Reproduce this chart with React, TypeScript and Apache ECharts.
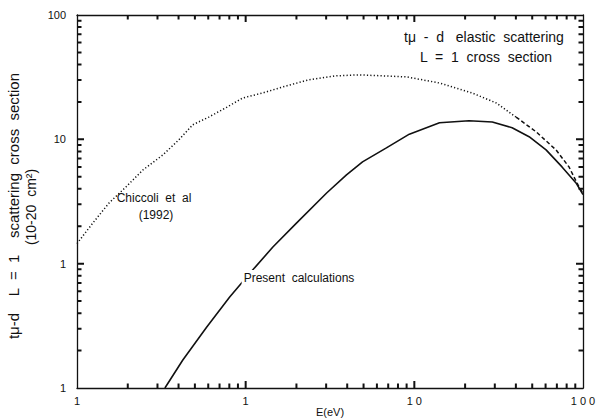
import React, { useEffect, useRef } from "react";
import * as echarts from "echarts";

// Chiccoli et al (1992) — dotted part
const dottedE = [0.1, 0.124, 0.155, 0.195, 0.246, 0.323, 0.401, 0.486, 0.604, 0.761, 0.96, 1.26, 1.66, 2.36, 3.41, 4.73, 8.97, 14.1, 22.0, 30.6, 40.1];
const dottedSigma = [1.45, 2.12, 3.08, 4.14, 5.67, 7.49, 9.89, 13.1, 15.1, 17.9, 21.5, 23.6, 26.4, 30.1, 32.4, 33.0, 31.8, 28.4, 23.6, 19.6, 15.1];
// Chiccoli et al (1992) — dashed tail
const dashedE = [40.1, 52.7, 69.2, 82.6, 94.7, 100];
const dashedSigma = [15.1, 11.5, 8.22, 6.0, 4.14, 3.7];
// Present calculations
const solidE = [0.332, 0.424, 0.588, 0.804, 1.1, 1.45, 2.0, 3.02, 3.96, 4.93, 6.83, 9.34, 14.1, 21.1, 29.0, 38.0, 47.9, 60.4, 75.1, 90.9, 100];
const solidSigma = [0.1, 0.168, 0.31, 0.54, 0.89, 1.36, 2.12, 3.7, 5.17, 6.58, 8.53, 11.0, 13.6, 14.1, 13.8, 12.4, 10.5, 8.22, 6.0, 4.46, 3.6];

// axis tick labels (as printed)
const xTickLabels: Record<string, string> = { "-1": "1", "0": "1", "1": "1 0", "2": "1 0 0" };
const yTickLabels: Record<string, string> = { "-1": "1", "0": "1", "1": "10", "2": "100" };
const majorTicks = [0.1, 1, 10, 100];
const minorTicks = [0.2, 0.3, 0.4, 0.5, 0.6, 0.7, 0.8, 0.9, 2, 3, 4, 5, 6, 7, 8, 9, 20, 30, 40, 50, 60, 70, 80, 90];
const AXIS_MIN = 0.1;
const AXIS_MAX = 100;

const FONT = "'Liberation Sans', Arial, sans-serif";
const INK = "#111";

const GRID = { left: 77, top: 15, right: 17, bottom: 30 };
const MAJOR_LEN = 7;
const MINOR_LEN = 4.5;

export default function App() {
  const ref = useRef<HTMLDivElement>(null);
  useEffect(() => {
    if (!ref.current) return;
    const chart = echarts.init(ref.current, null, { renderer: "svg" });
    const pair = (xs: number[], ys: number[]) => xs.map((x, i) => [x, ys[i]]);
    const lbl = (map: Record<string, string>) => (v: number) => map[String(Math.round(Math.log10(v)))] ?? "";
    const txt = (x: number, y: number, text: string, fontSize: number, extra: any = {}) => ({
      type: "text", x, y, z: 10, ...extra,
      style: { text, fontFamily: FONT, fontSize, fill: INK, textAlign: "center", textVerticalAlign: "middle", ...(extra.style || {}) },
    });
    // tick marks as short line segments in data space (pixel length -> log factor)
    const span = Math.log10(AXIS_MAX / AXIS_MIN);
    const plotW = 600 - GRID.left - GRID.right;
    const plotH = 418 - GRID.top - GRID.bottom;
    const fx = (px: number) => Math.pow(10, (px * span) / plotW);
    const fy = (px: number) => Math.pow(10, (px * span) / plotH);
    const tickSegs: any[] = [];
    const addTick = (v: number, len: number) => {
      tickSegs.push([v, AXIS_MIN], [v, AXIS_MIN * fy(len)], [v, "-"]);
      tickSegs.push([v, AXIS_MAX], [v, AXIS_MAX / fy(len)], [v, "-"]);
      tickSegs.push([AXIS_MIN, v], [AXIS_MIN * fx(len), v], ["-", v]);
      tickSegs.push([AXIS_MAX, v], [AXIS_MAX / fx(len), v], ["-", v]);
    };
    majorTicks.filter((v) => v > AXIS_MIN && v < AXIS_MAX).forEach((v) => addTick(v, MAJOR_LEN));
    minorTicks.forEach((v) => addTick(v, MINOR_LEN));

    const frameAxis = (pos: string, extra: any = {}) => ({
      type: "log", logBase: 10, min: AXIS_MIN, max: AXIS_MAX, position: pos, z: 5,
      axisLine: { show: true, onZero: false, lineStyle: { color: INK, width: 1.3 } },
      splitLine: { show: false }, minorTick: { show: false }, axisLabel: { show: false },
      axisTick: { show: false },
      ...extra,
    });
    chart.setOption({
      animation: false,
      backgroundColor: "#fff",
      grid: { ...GRID, outerBoundsMode: "none", containLabel: false, show: false },
      xAxis: [
        frameAxis("bottom", {
          name: "E(eV)", nameLocation: "middle", nameGap: 18, nameMoveOverlap: false,
          nameTextStyle: { fontFamily: FONT, fontSize: 11, color: INK },
          axisLabel: { show: true, formatter: lbl(xTickLabels), fontFamily: FONT, fontSize: 11, color: INK, margin: 7 },
        }),
        frameAxis("top"),
      ],
      yAxis: [
        frameAxis("left", {
          axisLabel: { show: true, formatter: lbl(yTickLabels), fontFamily: FONT, fontSize: 11, color: INK, margin: 11 },
        }),
        frameAxis("right"),
      ],
      series: [
        { type: "line", data: pair(dottedE, dottedSigma), showSymbol: false, symbol: "none", lineStyle: { color: INK, width: 1.5, type: [1.2, 2.2] } },
        { type: "line", data: pair(dashedE, dashedSigma), showSymbol: false, symbol: "none", lineStyle: { color: INK, width: 1.5, type: [4, 2.5] } },
        { type: "line", data: pair(solidE, solidSigma), showSymbol: false, symbol: "none", lineStyle: { color: INK, width: 1.6 } },
        { type: "line", data: tickSegs, showSymbol: false, symbol: "none", connectNulls: false, clip: false, silent: true, lineStyle: { color: INK, width: 2 } },
      ],
      graphic: [
        txt(484, 37, "tμ  -  d   elastic  scattering", 14),
        txt(486, 57, "L  =  1  cross  section", 14),
        txt(154, 198, "Chiccoli  et  al", 12),
        txt(156, 215, "(1992)", 12),
        txt(299, 278, "Present  calculations", 12, { style: { backgroundColor: "#fff", padding: [2, 2] } }),
        txt(13, 206, "tμ-d    L  =  1    scattering  cross  section", 15, { rotation: Math.PI / 2 }),
        txt(31, 207, "(10-20  cm²)", 14, { rotation: Math.PI / 2 }),
      ],
    });
    return () => chart.dispose();
  }, []);
  return <div ref={ref} style={{ position: "fixed", left: 0, top: 0, width: 600, height: 418, background: "#fff" }} />;
}
